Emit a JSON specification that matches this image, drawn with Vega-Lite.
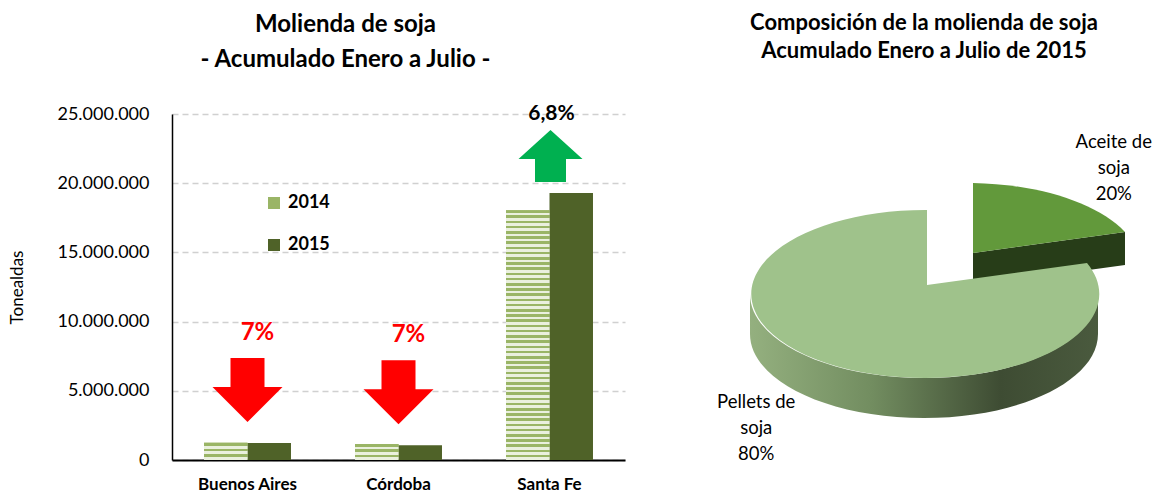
{
  "$schema": "https://vega.github.io/schema/vega-lite/v6.json",
  "padding": {"left": 8, "top": 12, "right": 0, "bottom": 0},
  "spacing": 80,
  "bounds": "flush",
  "config": {
    "font": "Lato",
    "view": {"stroke": null},
    "locale": {"number": {"decimal": ",", "thousands": ".", "grouping": [3], "currency": ["$", ""]}},
    "title": {"color": "black", "fontWeight": "bold", "anchor": "middle", "frame": "group"}
  },
  "datasets": {
    "bars": [
      {"region": "Buenos Aires", "year": "2014", "value": 1240000},
      {"region": "Buenos Aires", "year": "2015", "value": 1220000, "change": "7%", "dir": "down"},
      {"region": "Córdoba", "year": "2014", "value": 1160000},
      {"region": "Córdoba", "year": "2015", "value": 1060000, "change": "7%", "dir": "down"},
      {"region": "Santa Fe", "year": "2014", "value": 18050000},
      {"region": "Santa Fe", "year": "2015", "value": 19300000, "change": "6,8%", "dir": "up"}
    ],
    "pie": [
      {"slice": "Aceite de soja", "value": 20, "label": "Aceite de\nsoja\n20%"},
      {"slice": "Pellets de soja", "value": 80, "label": "Pellets de\nsoja\n80%"}
    ]
  },
  "hconcat": [
    {
      "width": 453,
      "height": 346,
      "data": {"name": "bars"},
      "title": {"text": ["Molienda de soja", "- Acumulado Enero a Julio -"], "fontSize": 24, "lineHeight": 35, "offset": 31, "dx": -53},
      "encoding": {
        "x": {"field": "region", "type": "nominal", "sort": ["Buenos Aires", "Córdoba", "Santa Fe"],
          "scale": {"paddingInner": 0, "paddingOuter": 0},
          "axis": {"title": null, "labelAngle": 0, "labelFontSize": 17, "labelFontWeight": "bold", "labelColor": "black", "ticks": false, "domainColor": "black", "domainWidth": 2, "labelPadding": 16}},
        "y": {"field": "value", "type": "quantitative",
          "scale": {"domain": [0, 25000000], "nice": false},
          "axis": {"title": "Tonealdas", "titleFontSize": 17, "titleFontWeight": "normal", "titleColor": "black", "titlePadding": 30,
            "values": [0, 5000000, 10000000, 15000000, 20000000, 25000000], "format": ",.0f",
            "labelFontSize": 18, "labelColor": "black", "labelPadding": 23, "ticks": false,
            "domainColor": "black", "domainWidth": 1.5, "grid": true, "gridDash": [6, 4], "gridColor": "#D0D0D0", "gridWidth": 1.5}}
      },
      "layer": [
        {
          "mark": {"type": "bar"},
          "encoding": {
            "xOffset": {"field": "year", "type": "nominal", "scale": {"paddingOuter": 0.736, "paddingInner": 0}},
            "fill": {"field": "year", "type": "nominal",
              "scale": {"domain": ["2014", "2015"], "range": ["#9AB566", "#4F6228"]},
              "legend": {"orient": "none", "legendX": 93, "legendY": 80, "title": null, "symbolType": "square", "symbolSize": 144,
                "symbolStrokeWidth": 0, "labelFontSize": 18, "labelFontWeight": "bold", "labelColor": "black", "rowPadding": 24, "labelOffset": 5, "padding": 0}}
          }
        },
        {
          "transform": [{"filter": "datum.year === '2014'"}],
          "mark": {"type": "bar"},
          "encoding": {
            "xOffset": {"field": "year", "type": "nominal"},
            "fill": {
              "condition": {"test": "datum.region === 'Santa Fe'", "value": {"gradient": "linear", "x1": 0, "y1": 0, "x2": 0, "y2": 1, "stops": [
{"offset":0,"color":"#9AB566"},{"offset":0.0104,"color":"#9AB566"},{"offset":0.0104,"color":"#EAF0DE"},{"offset":0.0208,"color":"#EAF0DE"},
{"offset":0.0208,"color":"#9AB566"},{"offset":0.0313,"color":"#9AB566"},{"offset":0.0313,"color":"#EAF0DE"},{"offset":0.0417,"color":"#EAF0DE"},
{"offset":0.0417,"color":"#9AB566"},{"offset":0.0521,"color":"#9AB566"},{"offset":0.0521,"color":"#EAF0DE"},{"offset":0.0625,"color":"#EAF0DE"},
{"offset":0.0625,"color":"#9AB566"},{"offset":0.0729,"color":"#9AB566"},{"offset":0.0729,"color":"#EAF0DE"},{"offset":0.0833,"color":"#EAF0DE"},
{"offset":0.0833,"color":"#9AB566"},{"offset":0.0938,"color":"#9AB566"},{"offset":0.0938,"color":"#EAF0DE"},{"offset":0.1042,"color":"#EAF0DE"},
{"offset":0.1042,"color":"#9AB566"},{"offset":0.1146,"color":"#9AB566"},{"offset":0.1146,"color":"#EAF0DE"},{"offset":0.125,"color":"#EAF0DE"},
{"offset":0.125,"color":"#9AB566"},{"offset":0.1354,"color":"#9AB566"},{"offset":0.1354,"color":"#EAF0DE"},{"offset":0.1458,"color":"#EAF0DE"},
{"offset":0.1458,"color":"#9AB566"},{"offset":0.1563,"color":"#9AB566"},{"offset":0.1563,"color":"#EAF0DE"},{"offset":0.1667,"color":"#EAF0DE"},
{"offset":0.1667,"color":"#9AB566"},{"offset":0.1771,"color":"#9AB566"},{"offset":0.1771,"color":"#EAF0DE"},{"offset":0.1875,"color":"#EAF0DE"},
{"offset":0.1875,"color":"#9AB566"},{"offset":0.1979,"color":"#9AB566"},{"offset":0.1979,"color":"#EAF0DE"},{"offset":0.2083,"color":"#EAF0DE"},
{"offset":0.2083,"color":"#9AB566"},{"offset":0.2188,"color":"#9AB566"},{"offset":0.2188,"color":"#EAF0DE"},{"offset":0.2292,"color":"#EAF0DE"},
{"offset":0.2292,"color":"#9AB566"},{"offset":0.2396,"color":"#9AB566"},{"offset":0.2396,"color":"#EAF0DE"},{"offset":0.25,"color":"#EAF0DE"},
{"offset":0.25,"color":"#9AB566"},{"offset":0.2604,"color":"#9AB566"},{"offset":0.2604,"color":"#EAF0DE"},{"offset":0.2708,"color":"#EAF0DE"},
{"offset":0.2708,"color":"#9AB566"},{"offset":0.2813,"color":"#9AB566"},{"offset":0.2813,"color":"#EAF0DE"},{"offset":0.2917,"color":"#EAF0DE"},
{"offset":0.2917,"color":"#9AB566"},{"offset":0.3021,"color":"#9AB566"},{"offset":0.3021,"color":"#EAF0DE"},{"offset":0.3125,"color":"#EAF0DE"},
{"offset":0.3125,"color":"#9AB566"},{"offset":0.3229,"color":"#9AB566"},{"offset":0.3229,"color":"#EAF0DE"},{"offset":0.3333,"color":"#EAF0DE"},
{"offset":0.3333,"color":"#9AB566"},{"offset":0.3438,"color":"#9AB566"},{"offset":0.3438,"color":"#EAF0DE"},{"offset":0.3542,"color":"#EAF0DE"},
{"offset":0.3542,"color":"#9AB566"},{"offset":0.3646,"color":"#9AB566"},{"offset":0.3646,"color":"#EAF0DE"},{"offset":0.375,"color":"#EAF0DE"},
{"offset":0.375,"color":"#9AB566"},{"offset":0.3854,"color":"#9AB566"},{"offset":0.3854,"color":"#EAF0DE"},{"offset":0.3958,"color":"#EAF0DE"},
{"offset":0.3958,"color":"#9AB566"},{"offset":0.4063,"color":"#9AB566"},{"offset":0.4063,"color":"#EAF0DE"},{"offset":0.4167,"color":"#EAF0DE"},
{"offset":0.4167,"color":"#9AB566"},{"offset":0.4271,"color":"#9AB566"},{"offset":0.4271,"color":"#EAF0DE"},{"offset":0.4375,"color":"#EAF0DE"},
{"offset":0.4375,"color":"#9AB566"},{"offset":0.4479,"color":"#9AB566"},{"offset":0.4479,"color":"#EAF0DE"},{"offset":0.4583,"color":"#EAF0DE"},
{"offset":0.4583,"color":"#9AB566"},{"offset":0.4688,"color":"#9AB566"},{"offset":0.4688,"color":"#EAF0DE"},{"offset":0.4792,"color":"#EAF0DE"},
{"offset":0.4792,"color":"#9AB566"},{"offset":0.4896,"color":"#9AB566"},{"offset":0.4896,"color":"#EAF0DE"},{"offset":0.5,"color":"#EAF0DE"},
{"offset":0.5,"color":"#9AB566"},{"offset":0.5104,"color":"#9AB566"},{"offset":0.5104,"color":"#EAF0DE"},{"offset":0.5208,"color":"#EAF0DE"},
{"offset":0.5208,"color":"#9AB566"},{"offset":0.5313,"color":"#9AB566"},{"offset":0.5313,"color":"#EAF0DE"},{"offset":0.5417,"color":"#EAF0DE"},
{"offset":0.5417,"color":"#9AB566"},{"offset":0.5521,"color":"#9AB566"},{"offset":0.5521,"color":"#EAF0DE"},{"offset":0.5625,"color":"#EAF0DE"},
{"offset":0.5625,"color":"#9AB566"},{"offset":0.5729,"color":"#9AB566"},{"offset":0.5729,"color":"#EAF0DE"},{"offset":0.5833,"color":"#EAF0DE"},
{"offset":0.5833,"color":"#9AB566"},{"offset":0.5938,"color":"#9AB566"},{"offset":0.5938,"color":"#EAF0DE"},{"offset":0.6042,"color":"#EAF0DE"},
{"offset":0.6042,"color":"#9AB566"},{"offset":0.6146,"color":"#9AB566"},{"offset":0.6146,"color":"#EAF0DE"},{"offset":0.625,"color":"#EAF0DE"},
{"offset":0.625,"color":"#9AB566"},{"offset":0.6354,"color":"#9AB566"},{"offset":0.6354,"color":"#EAF0DE"},{"offset":0.6458,"color":"#EAF0DE"},
{"offset":0.6458,"color":"#9AB566"},{"offset":0.6563,"color":"#9AB566"},{"offset":0.6563,"color":"#EAF0DE"},{"offset":0.6667,"color":"#EAF0DE"},
{"offset":0.6667,"color":"#9AB566"},{"offset":0.6771,"color":"#9AB566"},{"offset":0.6771,"color":"#EAF0DE"},{"offset":0.6875,"color":"#EAF0DE"},
{"offset":0.6875,"color":"#9AB566"},{"offset":0.6979,"color":"#9AB566"},{"offset":0.6979,"color":"#EAF0DE"},{"offset":0.7083,"color":"#EAF0DE"},
{"offset":0.7083,"color":"#9AB566"},{"offset":0.7188,"color":"#9AB566"},{"offset":0.7188,"color":"#EAF0DE"},{"offset":0.7292,"color":"#EAF0DE"},
{"offset":0.7292,"color":"#9AB566"},{"offset":0.7396,"color":"#9AB566"},{"offset":0.7396,"color":"#EAF0DE"},{"offset":0.75,"color":"#EAF0DE"},
{"offset":0.75,"color":"#9AB566"},{"offset":0.7604,"color":"#9AB566"},{"offset":0.7604,"color":"#EAF0DE"},{"offset":0.7708,"color":"#EAF0DE"},
{"offset":0.7708,"color":"#9AB566"},{"offset":0.7813,"color":"#9AB566"},{"offset":0.7813,"color":"#EAF0DE"},{"offset":0.7917,"color":"#EAF0DE"},
{"offset":0.7917,"color":"#9AB566"},{"offset":0.8021,"color":"#9AB566"},{"offset":0.8021,"color":"#EAF0DE"},{"offset":0.8125,"color":"#EAF0DE"},
{"offset":0.8125,"color":"#9AB566"},{"offset":0.8229,"color":"#9AB566"},{"offset":0.8229,"color":"#EAF0DE"},{"offset":0.8333,"color":"#EAF0DE"},
{"offset":0.8333,"color":"#9AB566"},{"offset":0.8438,"color":"#9AB566"},{"offset":0.8438,"color":"#EAF0DE"},{"offset":0.8542,"color":"#EAF0DE"},
{"offset":0.8542,"color":"#9AB566"},{"offset":0.8646,"color":"#9AB566"},{"offset":0.8646,"color":"#EAF0DE"},{"offset":0.875,"color":"#EAF0DE"},
{"offset":0.875,"color":"#9AB566"},{"offset":0.8854,"color":"#9AB566"},{"offset":0.8854,"color":"#EAF0DE"},{"offset":0.8958,"color":"#EAF0DE"},
{"offset":0.8958,"color":"#9AB566"},{"offset":0.9063,"color":"#9AB566"},{"offset":0.9063,"color":"#EAF0DE"},{"offset":0.9167,"color":"#EAF0DE"},
{"offset":0.9167,"color":"#9AB566"},{"offset":0.9271,"color":"#9AB566"},{"offset":0.9271,"color":"#EAF0DE"},{"offset":0.9375,"color":"#EAF0DE"},
{"offset":0.9375,"color":"#9AB566"},{"offset":0.9479,"color":"#9AB566"},{"offset":0.9479,"color":"#EAF0DE"},{"offset":0.9583,"color":"#EAF0DE"},
{"offset":0.9583,"color":"#9AB566"},{"offset":0.9688,"color":"#9AB566"},{"offset":0.9688,"color":"#EAF0DE"},{"offset":0.9792,"color":"#EAF0DE"},
{"offset":0.9792,"color":"#9AB566"},{"offset":0.9896,"color":"#9AB566"},{"offset":0.9896,"color":"#EAF0DE"},{"offset":1,"color":"#EAF0DE"}
              ]}},
              "value": {"gradient": "linear", "x1": 0, "y1": 0, "x2": 0, "y2": 1, "stops": [
{"offset":0,"color":"#9AB566"},{"offset":0.1667,"color":"#9AB566"},{"offset":0.1667,"color":"#EAF0DE"},{"offset":0.3333,"color":"#EAF0DE"},
{"offset":0.3333,"color":"#9AB566"},{"offset":0.5,"color":"#9AB566"},{"offset":0.5,"color":"#EAF0DE"},{"offset":0.6667,"color":"#EAF0DE"},
{"offset":0.6667,"color":"#9AB566"},{"offset":0.8333,"color":"#9AB566"},{"offset":0.8333,"color":"#EAF0DE"},{"offset":1,"color":"#EAF0DE"}
              ]}
            }
          }
        },
        {
          "transform": [{"filter": "datum.dir === 'down'"}],
          "mark": {"type": "point", "filled": true, "opacity": 1, "size": 4, "strokeWidth": 0, "color": "#FF0000",
            "shape": "M-17 -85 L17 -85 L17 -56 L35 -56 L0 -21 L-35 -56 L-17 -56 Z"}
        },
        {
          "transform": [{"filter": "datum.dir === 'up'"}],
          "mark": {"type": "point", "filled": true, "opacity": 1, "size": 4, "strokeWidth": 0, "color": "#00B050",
            "shape": "M1 -63 L33 -34 L16.5 -34 L16.5 -11 L-14.5 -11 L-14.5 -34 L-31 -34 Z"}
        },
        {
          "transform": [{"filter": "datum.dir === 'down'"}],
          "mark": {"type": "text", "fontSize": 24, "fontWeight": "bold", "color": "#FF0000", "dy": -110, "dx": 10, "baseline": "middle"},
          "encoding": {"text": {"field": "change"}}
        },
        {
          "transform": [{"filter": "datum.dir === 'up'"}],
          "mark": {"type": "text", "fontSize": 21, "fontWeight": "bold", "color": "black", "dy": -79, "dx": 2, "baseline": "middle"},
          "encoding": {"text": {"field": "change"}}
        }
      ]
    },
    {
      "width": 438,
      "height": 360,
      "data": {"name": "pie"},
      "title": {"text": ["Composición de la molienda de soja", "Acumulado Enero a Julio de 2015"], "fontSize": 22, "lineHeight": 28, "offset": 51},
      "layer": [
        {
          "mark": {"type": "point", "filled": true, "opacity": 1, "size": 4, "strokeWidth": 0},
          "encoding": {
            "shape": {"condition": {"test": "datum.slice === 'Aceite de soja'", "value": "M49 -41 L201 -62 L201 -29 L49 -8 Z"},
              "value": "M174 0 A174 84 0 0 1 -174 0 L-174 40 A174 84 0 0 0 174 40 Z"},
            "fill": {"condition": {"test": "datum.slice === 'Aceite de soja'", "value": "#273D18"},
              "value": {"gradient": "linear", "x1": 0, "y1": 0, "x2": 1, "y2": 0, "stops": [
                {"offset": 0, "color": "#94B07F"}, {"offset": 0.35, "color": "#728D60"}, {"offset": 0.72, "color": "#3E4C33"}, {"offset": 1, "color": "#4A5A3E"}]}}
          }
        },
        {
          "mark": {"type": "point", "filled": true, "opacity": 1, "size": 4, "strokeWidth": 0},
          "encoding": {
            "shape": {"condition": {"test": "datum.slice === 'Aceite de soja'", "value": "M49 -41 L49 -111 A174 84 0 0 1 201 -62 Z"},
              "value": "M3 -9 L163 -31 A174 84 0 1 1 3 -84 Z"},
            "fill": {"condition": {"test": "datum.slice === 'Aceite de soja'", "value": "#62993B"}, "value": "#9FC28B"}
          }
        },
        {
          "mark": {"type": "text", "fontSize": 18.5, "lineBreak": "\n", "lineHeight": 26, "dx": 11, "dy": -22, "align": "center", "baseline": "middle", "color": "black"},
          "encoding": {
            "theta": {"field": "value", "type": "quantitative", "stack": true, "scale": {"range": [0.3142, 6.5974]}},
            "radius": {"value": 221},
            "text": {"field": "label"}
          }
        }
      ]
    }
  ]
}
